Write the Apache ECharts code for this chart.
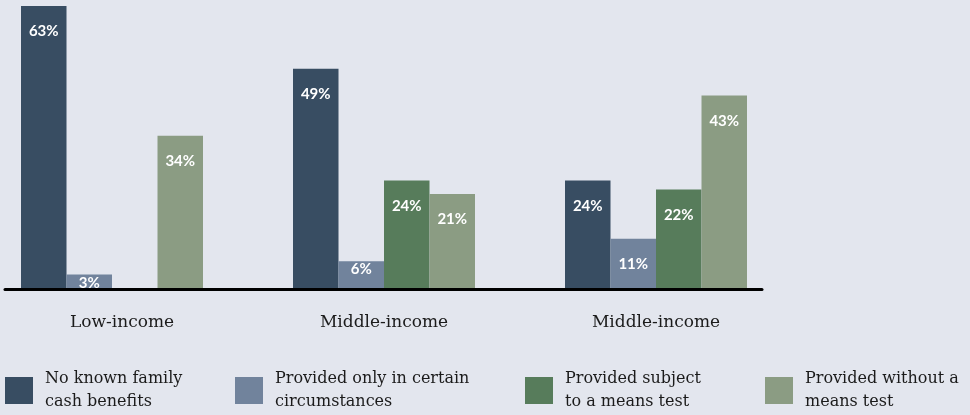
<!DOCTYPE html>
<html>
<head>
<meta charset="utf-8">
<script src="https://cdn.jsdelivr.net/npm/echarts@6/dist/echarts.min.js"></script>
<style>
html,body{margin:0;padding:0;background:#e3e6ee;}
#chart{width:970px;height:415px;}
</style>
</head>
<body>
<div id="chart"></div>
<script>
const categories = ['Low-income', 'Middle-income', 'Middle-income'];
const seriesNames = ['No known family\ncash benefits', 'Provided only in certain\ncircumstances', 'Provided subject\nto a means test', 'Provided without a\nmeans test'];
const noBenefits = [63, 49, 24];
const certainCircumstances = [3, 6, 11];
const meansTested = [null, 24, 22];
const withoutMeansTest = [34, 21, 43];
const colors = ['#384d62', '#71839c', '#577c5b', '#8b9c83'];
const legendLefts = [5, 235, 525, 765];

const values = [noBenefits, certainCircumstances, meansTested, withoutMeansTest];

const chart = echarts.init(document.getElementById('chart'), null, {renderer: 'canvas'});

const series = values.map((arr, i) => ({
  name: seriesNames[i],
  type: 'bar',
  xAxisIndex: 0,
  yAxisIndex: 0,
  barWidth: 45.5,
  barGap: '0%',
  itemStyle: {color: colors[i]},
  data: arr.map(v => v == null ? '-' : {
    value: v,
    label: v < 8 ? {position: 'insideTop', distance: 1} : {}
  }),
  label: {
    show: true,
    position: 'insideTop',
    distance: 18,
    color: '#ffffff',
    fontFamily: 'Lato',
    fontWeight: 'bold',
    fontSize: 15,
    formatter: p => p.value + '%'
  },
  emphasis: {disabled: true}
}));

const legends = seriesNames.map((n, i) => ({
  data: [n],
  left: legendLefts[i],
  top: 367.5,
  padding: 0,
  orient: 'horizontal',
  icon: 'rect',
  itemWidth: 28,
  itemHeight: 27,
  selectedMode: false,
  textStyle: {
    fontFamily: 'DejaVu Serif',
    fontSize: 16,
    lineHeight: 23,
    color: '#1b1b1b',
    padding: [0, 0, 0, 7]
  }
}));

chart.setOption({
  backgroundColor: '#e3e6ee',
  animation: false,
  legend: legends,
  grid: [
    {left: -24, width: 816, top: 6, bottom: 127, outerBoundsMode: 'none', containLabel: false},
    {left: 5, width: 757, top: 6, bottom: 125.5, outerBoundsMode: 'none', containLabel: false}
  ],
  xAxis: [
    {
      type: 'category',
      gridIndex: 0,
      data: categories.map((c, i) => i === 0 ? {value: c, textStyle: {padding: [0, 0, 0, 20]}} : c),
      axisLine: {show: false},
      axisTick: {show: false},
      axisLabel: {
        margin: 26,
        fontFamily: 'DejaVu Serif',
        fontSize: 17,
        color: '#1b1b1b'
      }
    },
    {
      type: 'value',
      gridIndex: 1,
      min: 0,
      max: 1,
      axisLine: {show: true, lineStyle: {color: '#000000', width: 3}},
      axisTick: {show: false},
      axisLabel: {show: false},
      splitLine: {show: false}
    }
  ],
  yAxis: [
    {type: 'value', gridIndex: 0, min: 0, max: 63, show: false, splitLine: {show: false}},
    {type: 'value', gridIndex: 1, min: 0, max: 1, show: false, splitLine: {show: false}}
  ],
  series: series
});
</script>
</body>
</html>
